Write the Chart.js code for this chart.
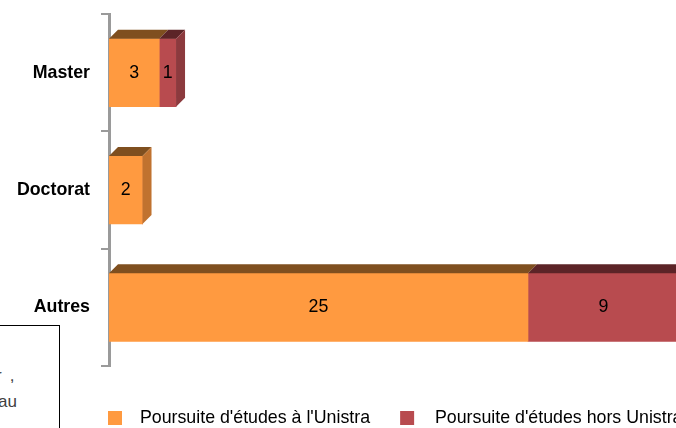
<!DOCTYPE html>
<html><head><meta charset="utf-8">
<script src="https://cdn.jsdelivr.net/npm/chart.js@4/dist/chart.umd.min.js"></script>
<style>
html,body{margin:0;padding:0;background:#fff;overflow:hidden;width:676px;height:428px;}
#wrap{position:relative;width:676px;height:428px;overflow:hidden;background:#fff;}
#c{position:absolute;left:0;top:0;}
#note{position:absolute;left:-200px;top:325px;width:260px;height:200px;border:1px solid #000;background:#fff;box-sizing:border-box;}
.nl{position:absolute;font-family:"Liberation Sans",Arial,sans-serif;font-size:17px;line-height:17px;color:#404040;white-space:nowrap;}
</style></head>
<body><div id="wrap"><canvas id="c" width="800" height="428" style="width:800px;height:428px"></canvas>
<div id="note"></div>
<div class="nl" style="left:-4px;top:367px;letter-spacing:9px">r,</div>
<div class="nl" style="left:-2px;top:393px">au</div>
</div>
<script>
const categories = ['Master', 'Doctorat', 'Autres'];
const seriesNames = ["Poursuite d'études à l'Unistra", "Poursuite d'études hors Unistra"];
const unistra = [3, 2, 25];
const horsUnistra = [1, 0, 9];

const FONT = '"Liberation Sans", Arial, sans-serif';
const FS = 17.8;
const frontColors = ['#FF9A40', '#B84B4F'];
const topColors = ['#7F4F1F', '#5C2427'];
const sideColors = ['#C0722F', '#8C3A3E'];
const depth = 9;

// widest category label, to right-align labels at a fixed x (mirror mode avoids clipping)
const mctx = document.createElement('canvas').getContext('2d');
mctx.font = 'bold ' + FS + 'px ' + FONT;
const widest = Math.max(...categories.map(t => mctx.measureText(t).width));

function makeSwatch(color, offset) {
  const c = document.createElement('canvas');
  c.width = 32; c.height = 14;
  const g = c.getContext('2d');
  g.fillStyle = color;
  g.fillRect(offset, 0, 14, 14);
  return c;
}
const swatches = [makeSwatch(frontColors[0], 16), makeSwatch(frontColors[1], 13)];

const bar3d = {
  id: 'bar3d',
  afterDatasetsDraw(chart) {
    const ctx = chart.ctx;
    const dss = chart.data.datasets;
    ctx.save();
    for (let j = 0; j < categories.length; j++) {
      let last = -1;
      dss.forEach((d, i) => { if (d.data[j] > 0) last = i; });
      dss.forEach((d, i) => {
        const v = d.data[j];
        if (!(v > 0)) return;
        const el = chart.getDatasetMeta(i).data[j];
        const p = el.getProps(['x', 'y', 'base', 'height'], true);
        const top = p.y - p.height / 2, bottom = p.y + p.height / 2;
        const l = Math.min(p.x, p.base), r = Math.max(p.x, p.base);
        ctx.fillStyle = topColors[i];
        ctx.beginPath();
        ctx.moveTo(l, top); ctx.lineTo(l + depth, top - depth);
        ctx.lineTo(r + depth, top - depth); ctx.lineTo(r, top);
        ctx.closePath(); ctx.fill();
        if (i === last) {
          ctx.fillStyle = sideColors[i];
          ctx.beginPath();
          ctx.moveTo(r, top); ctx.lineTo(r + depth, top - depth);
          ctx.lineTo(r + depth, bottom - depth); ctx.lineTo(r, bottom);
          ctx.closePath(); ctx.fill();
        }
        ctx.fillStyle = '#000';
        ctx.font = FS + 'px ' + FONT;
        ctx.textAlign = 'center';
        ctx.textBaseline = 'middle';
        ctx.fillText(String(v), (l + r) / 2, p.y);
      });
    }
    ctx.restore();
  }
};

new Chart(document.getElementById('c'), {
  type: 'bar',
  data: {
    labels: categories,
    datasets: [
      { label: seriesNames[0], data: unistra, backgroundColor: frontColors[0], borderWidth: 0, barThickness: 68 },
      { label: seriesNames[1], data: horsUnistra, backgroundColor: frontColors[1], borderWidth: 0, barThickness: 68 }
    ]
  },
  options: {
    indexAxis: 'y',
    responsive: false,
    animation: false,
    devicePixelRatio: 1,
    layout: { padding: { left: 75, top: 14, right: 20.6, bottom: -8.9 } },
    scales: {
      x: {
        stacked: true, min: 0, max: 40, display: true,
        grid: { display: false, drawTicks: false },
        border: { display: false },
        ticks: { display: false },
        afterFit(s) { s.height = 33.1; s.paddingLeft = 0; s.paddingRight = 0; }
      },
      y: {
        stacked: true, offset: true,
        grid: { display: true, offset: true, drawOnChartArea: false, drawTicks: true, tickLength: 8, color: '#9A9A9A', lineWidth: 2 },
        border: { display: true, color: '#9A9A9A', width: 3 },
        ticks: { mirror: true, crossAlign: 'far', padding: -19 - widest, color: '#000', font: { family: FONT, size: FS, weight: 'bold' } },
        afterFit(s) { s.width = 34; s.paddingTop = 0; s.paddingBottom = 0; }
      }
    },
    plugins: {
      tooltip: { enabled: false },
      legend: {
        position: 'bottom',
        align: 'start',
        labels: {
          usePointStyle: true,
          pointStyleWidth: 46,
          padding: 10,
          color: '#000',
          font: { family: FONT, size: FS },
          generateLabels(chart) {
            return chart.data.datasets.map((d, i) => ({
              text: d.label, fillStyle: d.backgroundColor, strokeStyle: d.backgroundColor,
              lineWidth: 0, pointStyle: swatches[i], hidden: false, datasetIndex: i, fontColor: '#000'
            }));
          }
        }
      }
    }
  },
  plugins: [bar3d]
});
</script>
</body></html>
